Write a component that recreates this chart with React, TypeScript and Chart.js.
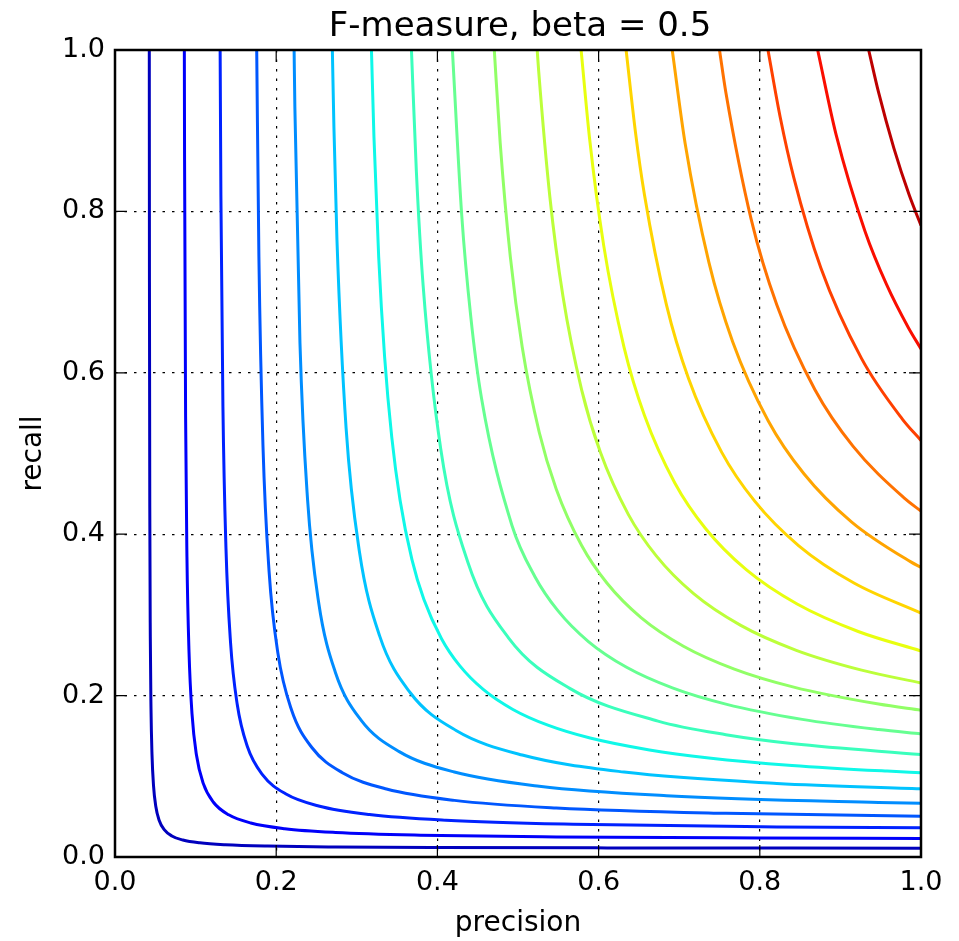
import React, { useEffect, useRef } from "react";
import { Chart, registerables } from "chart.js";

Chart.register(...registerables);

const titleText = "F-measure, beta = 0.5";
const xLabel = "precision";
const yLabel = "recall";
const tickValues = [0, 0.2, 0.4, 0.6, 0.8, 1.0];

// contour levels: k/19, k = 1..18
const levels = [
  0.05263, 0.10526, 0.15789, 0.21053, 0.26316, 0.31579, 0.36842, 0.42105, 0.47368,
  0.52632, 0.57895, 0.63158, 0.68421, 0.73684, 0.78947, 0.84211, 0.89474, 0.94737,
];

const p01 = [0.04255, 0.04274, 0.04316, 0.04379, 0.04463, 0.04589, 0.04779, 0.05053, 0.05474, 0.06105, 0.07053, 0.0842, 0.10526, 0.13684, 0.18947, 0.27368, 0.4, 0.61053, 1.0];
const r01 = [1.0, 0.7123, 0.4316, 0.2737, 0.186, 0.1275, 0.0885, 0.0632, 0.0456, 0.0339, 0.0261, 0.02105, 0.01754, 0.0152, 0.01353, 0.01244, 0.01176, 0.0113, 0.01099];
const p02 = [0.08603, 0.08632, 0.08758, 0.08926, 0.0918, 0.09558, 0.10106, 0.10949, 0.12212, 0.14107, 0.16844, 0.21055, 0.27372, 0.37899, 0.54743, 0.80009, 1.0];
const r02 = [1.0, 0.86326, 0.54743, 0.37196, 0.255, 0.17702, 0.12633, 0.09124, 0.06784, 0.05225, 0.04211, 0.03509, 0.03041, 0.02707, 0.02488, 0.02353, 0.02299];
const p03 = [0.13044, 0.13137, 0.1339, 0.13769, 0.14337, 0.15158, 0.16422, 0.18316, 0.21159, 0.25264, 0.3158, 0.41054, 0.56844, 0.82108, 1.0];
const r03 = [1.0, 0.82108, 0.5579, 0.38247, 0.26551, 0.18948, 0.13685, 0.10176, 0.07836, 0.06316, 0.05263, 0.04561, 0.04061, 0.03732, 0.03615];
const p04 = [0.17582, 0.17853, 0.18358, 0.19116, 0.2021, 0.21895, 0.24421, 0.2821, 0.33684, 0.42105, 0.54737, 0.75789, 1.0];
const r04 = [1.0, 0.74384, 0.50994, 0.354, 0.25263, 0.18246, 0.13567, 0.10448, 0.08421, 0.07017, 0.06082, 0.05414, 0.05063];
const p05 = [0.22222, 0.22315, 0.22947, 0.23894, 0.25262, 0.27368, 0.30525, 0.35262, 0.42104, 0.5263, 0.68419, 0.94734, 1.0];
const r05 = [1.0, 0.92979, 0.63741, 0.44248, 0.31578, 0.22807, 0.16959, 0.1306, 0.10526, 0.08771, 0.07602, 0.06767, 0.06667];
const p06 = [0.26967, 0.27159, 0.27538, 0.28675, 0.30317, 0.32843, 0.36633, 0.42317, 0.50528, 0.6316, 0.82108, 1.0];
const r06 = [1.0, 0.90529, 0.76494, 0.53101, 0.37896, 0.2737, 0.20352, 0.15673, 0.12632, 0.10526, 0.09123, 0.08451];
const p07 = [0.31818, 0.32127, 0.32716, 0.33453, 0.34337, 0.35369, 0.36843, 0.38316, 0.40527, 0.42737, 0.45685, 0.49369, 0.5379, 0.58948, 0.66317, 0.73685, 0.84001, 0.95791, 1.0];
const r07 = [1.0, 0.89241, 0.74355, 0.6195, 0.52026, 0.44211, 0.36843, 0.3193, 0.27018, 0.23743, 0.20766, 0.18284, 0.163, 0.14737, 0.13263, 0.12281, 0.11351, 0.10643, 0.10448];
const p08 = [0.36781, 0.37389, 0.38231, 0.40421, 0.43789, 0.48842, 0.56421, 0.67368, 0.75789, 0.8421, 1.0];
const r08 = [1.0, 0.84975, 0.70799, 0.50526, 0.36491, 0.27134, 0.20896, 0.16842, 0.15158, 0.14035, 0.12698];
const p09 = [0.4186, 0.4301, 0.44147, 0.45473, 0.49262, 0.52104, 0.54946, 0.58736, 0.63472, 0.69157, 0.75788, 0.85262, 0.94735, 1.0];
const r09 = [1.0, 0.79648, 0.66889, 0.56841, 0.41052, 0.34736, 0.30526, 0.26698, 0.23508, 0.20957, 0.18947, 0.17052, 0.15789, 0.15254];
const p10 = [0.47059, 0.4779, 0.49053, 0.50527, 0.52633, 0.54738, 0.57896, 0.61054, 0.65264, 0.70528, 0.76843, 0.84212, 0.94739, 1.0];
const r10 = [1.0, 0.885, 0.74323, 0.63159, 0.52633, 0.45615, 0.38597, 0.33919, 0.29665, 0.2612, 0.23286, 0.21053, 0.18948, 0.18182];
const p11 = [0.52381, 0.52569, 0.53958, 0.55579, 0.57895, 0.60211, 0.63685, 0.67158, 0.7179, 0.77579, 0.84527, 0.92632, 1.0];
const r11 = [1.0, 0.97349, 0.81755, 0.69474, 0.57895, 0.50176, 0.42456, 0.3731, 0.32632, 0.28733, 0.25614, 0.23158, 0.21569];
const p12 = [0.57831, 0.58863, 0.60631, 0.63158, 0.65684, 0.69473, 0.73263, 0.78315, 0.84631, 0.9221, 1.0];
const r12 = [1.0, 0.89186, 0.75789, 0.63158, 0.54737, 0.46315, 0.40702, 0.35598, 0.31344, 0.27943, 0.25532];
const p13 = [0.63414, 0.64588, 0.65683, 0.6842, 0.71157, 0.75262, 0.79367, 0.84841, 0.91683, 1.0];
const r13 = [1.0, 0.89707, 0.82104, 0.6842, 0.59297, 0.50175, 0.44093, 0.38564, 0.33956, 0.30232];
const p14 = [0.69136, 0.70738, 0.73685, 0.76632, 0.81054, 0.85475, 0.91369, 0.98738, 1.0];
const r14 = [1.0, 0.88422, 0.73685, 0.6386, 0.54036, 0.47486, 0.41532, 0.36569, 0.35897];
const p15 = [0.75, 0.7579, 0.78948, 0.82105, 0.86842, 0.91579, 0.97895, 1.0];
const r15 = [1.0, 0.94737, 0.78948, 0.68421, 0.57895, 0.50877, 0.44498, 0.42857];
const p16 = [0.81013, 0.82526, 0.8421, 0.87578, 0.92631, 0.97684, 1.0];
const r16 = [1.0, 0.91696, 0.8421, 0.72982, 0.61754, 0.5427, 0.51613];
const p17 = [0.87179, 0.89473, 0.93051, 0.95736, 0.9842, 1.0];
const r17 = [1.0, 0.89473, 0.77543, 0.70915, 0.65613, 0.62963];
const p18 = [0.93507, 0.94738, 0.96632, 0.98527, 1.0];
const r18 = [1.0, 0.94738, 0.87848, 0.82054, 0.78261];

const precisionSets = [p01, p02, p03, p04, p05, p06, p07, p08, p09, p10, p11, p12, p13, p14, p15, p16, p17, p18];
const recallSets = [r01, r02, r03, r04, r05, r06, r07, r08, r09, r10, r11, r12, r13, r14, r15, r16, r17, r18];

function jet(v: number): string {
  const r = v < 0.35 ? 0 : v < 0.66 ? (v - 0.35) / 0.31 : v < 0.89 ? 1 : 1 - (0.5 * (v - 0.89)) / 0.11;
  const g = v < 0.125 ? 0 : v < 0.375 ? (v - 0.125) / 0.25 : v < 0.64 ? 1 : v < 0.91 ? 1 - (v - 0.64) / 0.27 : 0;
  const b = v < 0.11 ? 0.5 + (0.5 * v) / 0.11 : v < 0.34 ? 1 : v < 0.65 ? 1 - (v - 0.34) / 0.31 : 0;
  const c = (x: number) => Math.round(Math.max(0, Math.min(1, x)) * 255);
  return `rgb(${c(r)},${c(g)},${c(b)})`;
}

const FONT = "'DejaVu Sans', sans-serif";

const framePlugin = {
  id: "frame",
  afterDatasetsDraw(chart: any) {
    const { ctx, chartArea: a, scales } = chart;
    const x = scales.x;
    const y = scales.y;
    ctx.save();
    ctx.strokeStyle = "#000";
    ctx.lineWidth = 1.2;
    const len = 12;
    ctx.beginPath();
    for (const t of tickValues) {
      const px = x.getPixelForValue(t);
      ctx.moveTo(px, a.bottom);
      ctx.lineTo(px, a.bottom - len);
      ctx.moveTo(px, a.top);
      ctx.lineTo(px, a.top + len);
      const py = y.getPixelForValue(t);
      ctx.moveTo(a.left, py);
      ctx.lineTo(a.left + len, py);
      ctx.moveTo(a.right, py);
      ctx.lineTo(a.right - len, py);
    }
    ctx.stroke();
    ctx.lineWidth = 2.5;
    ctx.strokeRect(a.left, a.top, a.right - a.left, a.bottom - a.top);
    ctx.fillStyle = "#000";
    ctx.font = `34px ${FONT}`;
    ctx.textAlign = "center";
    ctx.textBaseline = "alphabetic";
    ctx.fillText(titleText, (a.left + a.right) / 2 + 2, 36);
    ctx.restore();
  },
};

export default function App() {
  const ref = useRef<HTMLCanvasElement | null>(null);

  useEffect(() => {
    if (!ref.current) return;
    Chart.defaults.font.family = FONT;
    Chart.defaults.color = "#000";

    const datasets = levels.map((lv, i) => ({
      label: `F = ${lv}`,
      data: precisionSets[i].map((p, j) => ({ x: p, y: recallSets[i][j] })),
      showLine: true,
      borderColor: jet(lv),
      backgroundColor: jet(lv),
      borderWidth: 3,
      pointRadius: 0,
      fill: false,
      cubicInterpolationMode: "monotone" as const,
    }));

    const gridColor = (c: any) => {
      const v = c.tick ? c.tick.value : 0;
      return v > 0.01 && v < 0.99 ? "#000" : "rgba(0,0,0,0)";
    };

    const chart = new Chart(ref.current, {
      type: "scatter",
      data: { datasets },
      plugins: [framePlugin],
      options: {
        animation: false,
        responsive: false,
        devicePixelRatio: 1,
        layout: { padding: { top: 50, right: 38, bottom: 0, left: 0 } },
        plugins: {
          legend: { display: false },
          title: { display: false },
          tooltip: { enabled: false },
        },
        scales: {
          x: {
            type: "linear",
            min: 0,
            max: 1,
            afterFit: (s: any) => {
              s.height = 84;
            },
            ticks: {
              stepSize: 0.2,
              padding: 10,
              font: { size: 27 },
              color: "#000",
              maxRotation: 0,
              callback: (v: any) => Number(v).toFixed(1),
            },
            grid: { color: gridColor, lineWidth: 1.2, drawTicks: false },
            border: { display: false, dash: [2.5, 7] },
            title: {
              display: true,
              text: xLabel,
              font: { size: 28 },
              color: "#000",
              padding: { top: 0, bottom: 0 },
            },
          },
          y: {
            type: "linear",
            min: 0,
            max: 1,
            afterFit: (s: any) => {
              s.width = 115;
            },
            ticks: {
              stepSize: 0.2,
              padding: 10,
              font: { size: 27 },
              color: "#000",
              callback: (v: any) => Number(v).toFixed(1),
            },
            grid: { color: gridColor, lineWidth: 1.2, drawTicks: false },
            border: { display: false, dash: [2.5, 7] },
            title: {
              display: true,
              text: yLabel,
              font: { size: 28 },
              color: "#000",
              padding: { top: 17, bottom: 0 },
            },
          },
        },
      },
    });
    return () => chart.destroy();
  }, []);

  return (
    <div style={{ position: "absolute", left: 0, top: 0, width: 959, height: 941, background: "#fff" }}>
      <canvas ref={ref} width={959} height={941} style={{ width: 959, height: 941, display: "block" }} />
    </div>
  );
}
